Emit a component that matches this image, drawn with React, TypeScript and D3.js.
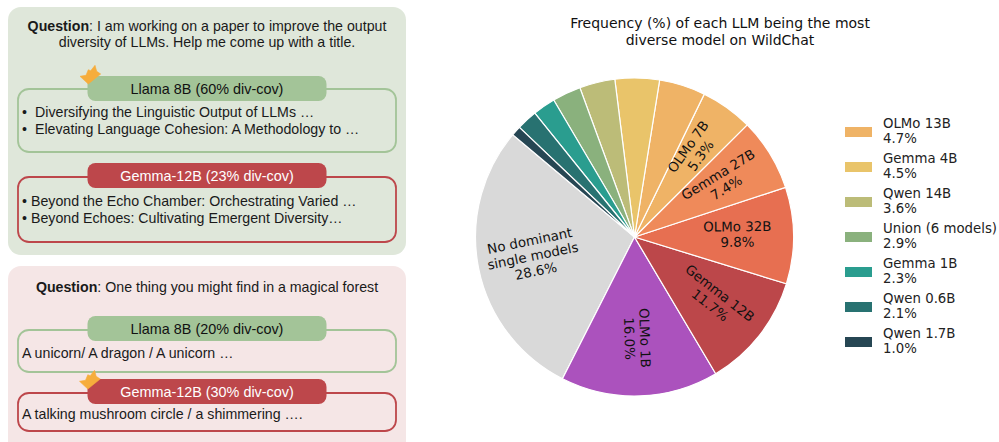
import React from "react";
import * as d3 from "d3";

const sliceLabels = ["No dominant\nsingle models","OLMo 1B","Gemma 12B","OLMo 32B","Gemma 27B","OLMo 7B","OLMo 13B","Gemma 4B","Qwen 14B","Union (6 models)","Gemma 1B","Qwen 0.6B","Qwen 1.7B"];
const sliceValues = [28.6,16.0,11.7,9.8,7.4,5.3,4.7,4.5,3.6,2.9,2.3,2.1,1.0];
const sliceColors = ["#d9d9d9","#ab52bd","#bc474a","#e76f51","#ef8a5a","#efb366","#efb366","#e9c46a","#bcbc78","#8ab17d","#2a9d8f","#287271","#264653"];
const titleLines = ["Frequency (%) of each LLM being the most","diverse model on WildChat"];
const insideCount = 6;

const GREEN = "#a3c498";
const RED = "#bd474b";
const SANS = "'Liberation Sans', Arial, sans-serif";
const DEJAVU = "'DejaVu Sans', sans-serif";

const cx = 634.5, cy = 237, R = 159;
const deg = Math.PI / 180;

function Crown({ x, y }: { x: number; y: number }) {
  return (
    <path transform={`translate(${x},${y})`} d="M0,11.3 L6,10.3 L8.3,4.7 L10.7,5.7 L15,0.3 L16.7,6.3 L20.7,9 L8.3,19 Z" fill="#f6ad3c" stroke="#f6ad3c" strokeWidth={0.6} strokeLinejoin="round" />
  );
}

function Box({ y0, y1, hy, color, head, textColor }: { y0: number; y1: number; hy: number; color: string; head: string; textColor: string }) {
  return (
    <g>
      <rect x={18} y={y0} width={378} height={y1 - y0} rx={11} fill="none" stroke={color} strokeWidth={1.8} />
      <rect x={87.5} y={hy} width={239} height={25} rx={8} fill={color} />
      <text x={207} y={hy + 18} textAnchor="middle" fontFamily={SANS} fontSize={14.4} fill={textColor}>{head}</text>
    </g>
  );
}

const T = ({ x, y, children, anchor }: any) => (
  <text x={x} y={y} textAnchor={anchor} fontFamily={SANS} fontSize={14.2} fill="#1a1a1a">{children}</text>
);

export default function App() {
  const pie = d3.pie<number>().sort(null).startAngle(-50 * deg).endAngle(-410 * deg);
  const arcs = pie(sliceValues);
  const arc = d3.arc<d3.PieArcDatum<number>>().innerRadius(0).outerRadius(R);
  const labelR = R * 0.65;
  const legendIdx = sliceValues.map((_, i) => i).slice(insideCount);

  return (
    <svg width={999} height={442} style={{ position: "absolute", left: 0, top: 0, background: "#fff" }}>
      <rect x={8} y={7} width={398} height={248} rx={13} fill="#dfe7da" />
      <rect x={8} y={266} width={398} height={190} rx={13} fill="#f5e6e6" />

      <text x={207} y={31} textAnchor="middle" fontFamily={SANS} fontSize={14.2} fill="#1a1a1a"><tspan fontWeight="bold">Question</tspan>: I am working on a paper to improve the output</text>
      <T x={207} y={47} anchor="middle">diversity of LLMs. Help me come up with a title.</T>

      <Box y0={89} y1={152} hy={76} color={GREEN} head="Llama 8B (60% div-cov)" textColor="#111" />
      <Crown x={80} y={65} />
      <T x={22} y={117}>•</T><T x={35} y={117}>Diversifying the Linguistic Output of LLMs …</T>
      <T x={22} y={134}>•</T><T x={35} y={134}>Elevating Language Cohesion: A Methodology to  …</T>

      <Box y0={177} y1={242} hy={163} color={RED} head="Gemma-12B (23% div-cov)" textColor="#fff" />
      <T x={22} y={206}>•</T><T x={31} y={206}>Beyond the Echo Chamber: Orchestrating Varied …</T>
      <T x={22} y={223}>•</T><T x={31} y={223}>Beyond Echoes: Cultivating Emergent Diversity…</T>

      <text x={207} y={292} textAnchor="middle" fontFamily={SANS} fontSize={14.2} fill="#1a1a1a"><tspan fontWeight="bold">Question</tspan>: One thing you might find in a magical forest</text>

      <Box y0={330} y1={372} hy={316} color={GREEN} head="Llama 8B (20% div-cov)" textColor="#111" />
      <T x={22} y={358}>A unicorn/ A dragon / A unicorn …</T>
      <Box y0={393} y1={431} hy={379} color={RED} head="Gemma-12B (30% div-cov)" textColor="#fff" />
      <Crown x={79.5} y={370} />
      <T x={22} y={419}>A talking mushroom circle / a shimmering ….</T>

      {titleLines.map((t, i) => (
        <text key={t} x={720} y={28 + i * 17} textAnchor="middle" fontFamily={DEJAVU} fontSize={14} fill="#111">{t}</text>
      ))}

      <g transform={`translate(${cx},${cy})`}>
        {arcs.map((a, i) => (
          <path key={i} d={arc(a) || ""} fill={sliceColors[i]} stroke="#fff" strokeWidth={1.2} />
        ))}
        {arcs.slice(0, insideCount).map((a, i) => {
          const mid = (a.startAngle + a.endAngle) / 2;
          let th = (mid / deg) % 360;
          if (th < 0) th += 360;
          const rot = th <= 180 ? th - 90 : th + 90;
          const px = labelR * Math.sin(mid) - 0.5;
          const py = -labelR * Math.cos(mid) - 2;
          const lines = [...sliceLabels[i].split("\n"), `${sliceValues[i].toFixed(1)}%`];
          const start = -((lines.length - 1) * 15.5) / 2 + 5;
          return (
            <g key={i} transform={`translate(${px},${py}) rotate(${rot})`}>
              {lines.map((l, j) => (
                <text key={j} y={start + j * 15.5} textAnchor="middle" fontFamily={DEJAVU} fontSize={13.4} fill="#111">{l}</text>
              ))}
            </g>
          );
        })}
      </g>

      {legendIdx.map((idx, k) => {
        const y = 127 + k * 35;
        return (
          <g key={idx}>
            <rect x={845} y={y} width={27} height={10} fill={sliceColors[idx]} />
            <text x={883} y={y + 1} fontFamily={DEJAVU} fontSize={13.3} fill="#222">{sliceLabels[idx]}</text>
            <text x={883} y={y + 16} fontFamily={DEJAVU} fontSize={13.3} fill="#222">{sliceValues[idx].toFixed(1)}%</text>
          </g>
        );
      })}
    </svg>
  );
}
